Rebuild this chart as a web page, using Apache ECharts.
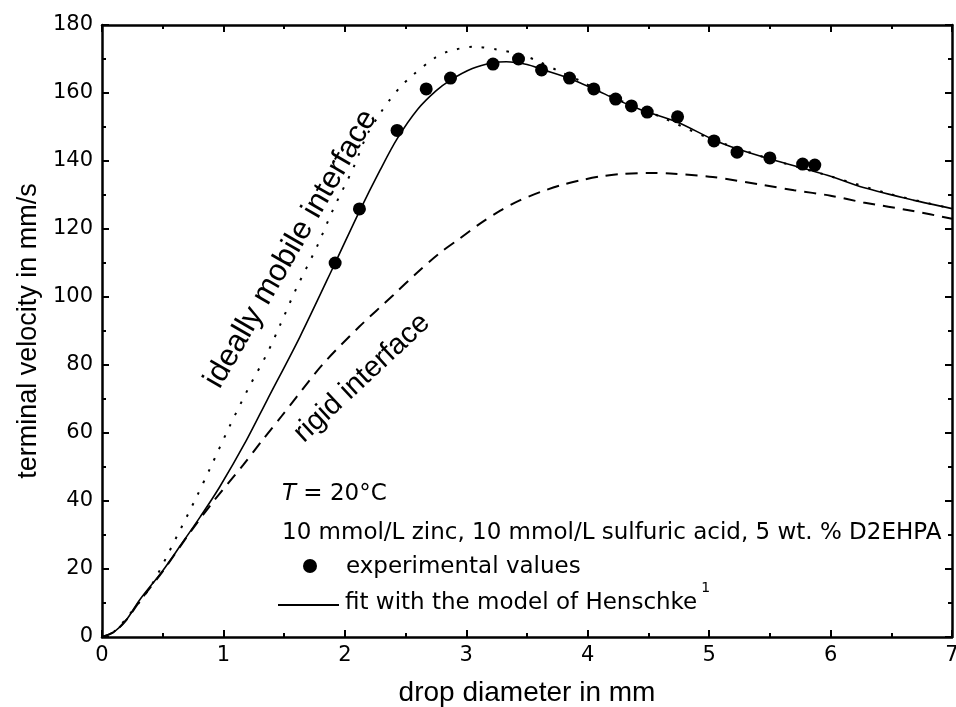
<!DOCTYPE html>
<html>
<head>
<meta charset="utf-8">
<script src="https://cdn.jsdelivr.net/npm/echarts@6/dist/echarts.min.js"></script>
<style>
html,body{margin:0;padding:0;background:#fff;}
#chart{width:956px;height:707px;}
</style>
</head>
<body>
<div id="chart"></div>
<script>
// ---- data ----
const xTicks = [0, 1, 2, 3, 4, 5, 6, 7];
const yTicks = [0, 20, 40, 60, 80, 100, 120, 140, 160, 180];

const experimental = [
  [1.92, 110], [2.12, 125.9], [2.43, 149], [2.67, 161.2], [2.87, 164.4],
  [3.22, 168.5], [3.43, 170], [3.62, 166.8], [3.85, 164.4], [4.05, 161.2],
  [4.23, 158.2], [4.36, 156.2], [4.49, 154.4], [4.74, 153], [5.04, 145.9],
  [5.23, 142.6], [5.50, 140.9], [5.77, 139.1], [5.87, 138.8]
];

const henschkeFit = [
  [0, 0], [0.1, 1.5], [0.2, 5], [0.31, 10.9], [0.5, 19.5], [0.64, 26.6],
  [0.81, 35.4], [0.97, 44.2], [1.19, 57.9], [1.36, 69.7], [1.63, 88.3],
  [1.92, 110], [2.12, 125.2], [2.29, 137.3], [2.43, 146.5], [2.6, 155.2],
  [2.75, 160.6], [2.87, 163.8], [3.05, 167.2], [3.22, 168.9], [3.33, 169.2],
  [3.5, 168.4], [3.62, 167], [3.85, 164.3], [4.05, 161.2], [4.23, 158.2],
  [4.36, 156.2], [4.49, 154.4], [4.74, 151.4], [5.04, 146.2], [5.23, 143.6],
  [5.5, 140.6], [5.86, 137], [6.0, 135.5], [6.27, 132.2], [6.68, 128.5], [7.0, 126]
];

const rigidInterface = [
  [0, 0], [0.1, 1.5], [0.2, 5], [0.31, 10.5], [0.5, 19.3], [0.72, 30.5],
  [0.92, 40], [1.16, 50.5], [1.33, 58.3], [1.48, 65], [1.6, 70.5],
  [1.82, 80.3], [2.12, 91.3], [2.4, 100.6], [2.59, 107], [2.77, 112.6],
  [2.95, 117.3], [3.11, 121.5], [3.28, 125.4], [3.44, 128.4], [3.62, 131],
  [3.79, 133], [3.95, 134.4], [4.13, 135.6], [4.29, 136.2], [4.5, 136.5],
  [4.68, 136.3], [5.03, 135.3], [5.45, 132.9], [5.7, 131.4], [6.0, 129.8],
  [6.27, 127.8], [6.68, 125.3], [7.0, 123]
];

const mobileInterface = [
  [0, 0], [0.1, 1.6], [0.2, 5.5], [0.4, 14.8], [0.615, 29.5], [0.78, 41.3],
  [0.89, 49.6], [1.05, 61.9], [1.205, 73.1], [1.36, 83.4], [1.47, 92],
  [1.6, 102.5], [1.77, 114.8], [1.9, 125.5], [2.07, 138], [2.18, 147.5],
  [2.30, 154.5], [2.37, 158], [2.45, 161.5], [2.56, 165.3], [2.74, 170.3],
  [2.85, 172.2], [3.06, 173.6], [3.25, 172.8], [3.43, 171.5], [3.57, 169.7],
  [3.77, 166.3], [3.96, 163.2], [4.1, 160.5], [4.3, 157.3], [4.6, 153],
  [5.0, 146.7], [5.5, 140.6], [6.0, 135.5], [6.5, 130.2], [7.0, 126]
];

const annotations = {
  temp: 'T',
  tempRest: ' = 20°C',
  conditions: '10 mmol/L zinc, 10 mmol/L sulfuric acid, 5 wt. % D2EHPA',
  exp: 'experimental values',
  fit: 'fit with the model of Henschke',
  sup: '1',
  mobile: 'ideally mobile interface',
  rigid: 'rigid interface'
};

// ---- chart ----
const FONT = '"Liberation Sans", Arial, sans-serif';
const WFONT = '"DejaVu Sans", "Liberation Sans", sans-serif';
const chart = echarts.init(document.getElementById('chart'), null, {renderer: 'canvas'});

const axisLineStyle = {show: true, onZero: false, lineStyle: {color: '#000', width: 2.5}};
const tickStyle = {show: true, inside: true, length: 7, lineStyle: {color: '#000', width: 2}};
const minorStyle = {show: true, splitNumber: 2, length: 4, lineStyle: {color: '#000', width: 2}};

const option = {
  backgroundColor: '#fff',
  animation: false,
  grid: {left: 102, right: 4, top: 25, bottom: 70, show: false,
         containLabel: false, outerBoundsMode: 'none'},
  xAxis: [
    {
      type: 'value', min: 0, max: 7, interval: 1, position: 'bottom',
      axisLine: axisLineStyle, axisTick: tickStyle, minorTick: minorStyle,
      splitLine: {show: false},
      axisLabel: {color: '#000', fontSize: 21, fontFamily: WFONT, margin: 8,
        formatter: v => xTicks.includes(v) ? String(v) : ''},
      name: 'drop diameter in mm', nameLocation: 'middle', nameGap: 42,
      nameTextStyle: {color: '#000', fontSize: 28, fontFamily: FONT}
    },
    {
      type: 'value', min: 0, max: 7, interval: 1, position: 'top',
      axisLine: axisLineStyle, axisTick: tickStyle, minorTick: minorStyle,
      splitLine: {show: false}, axisLabel: {show: false}
    }
  ],
  yAxis: [
    {
      type: 'value', min: 0, max: 180, interval: 20, position: 'left',
      axisLine: axisLineStyle, axisTick: tickStyle, minorTick: minorStyle,
      splitLine: {show: false},
      axisLabel: {color: '#000', fontSize: 21, fontFamily: WFONT, margin: 9,
        formatter: v => yTicks.includes(v) ? String(v) : ''},
      name: 'terminal velocity in mm/s', nameLocation: 'middle', nameGap: 60,
      nameTextStyle: {color: '#000', fontSize: 27, fontFamily: FONT}
    },
    {
      type: 'value', min: 0, max: 180, interval: 20, position: 'right',
      axisLine: axisLineStyle, axisTick: tickStyle, minorTick: minorStyle,
      splitLine: {show: false}, axisLabel: {show: false}
    }
  ],
  series: [
    {
      name: 'ideally mobile interface', type: 'line', data: mobileInterface,
      smooth: 0.3, showSymbol: false, symbol: 'none',
      lineStyle: {color: '#000', width: 2, type: [2.5, 10], cap: 'butt'}, z: 2
    },
    {
      name: 'rigid interface', type: 'line', data: rigidInterface,
      smooth: 0.3, showSymbol: false, symbol: 'none',
      lineStyle: {color: '#000', width: 2, type: [12, 8]}, z: 2
    },
    {
      name: 'fit', type: 'line', data: henschkeFit,
      smooth: 0.3, showSymbol: false, symbol: 'none',
      lineStyle: {color: '#000', width: 1.6}, z: 3
    },
    {
      name: 'experimental values', type: 'scatter', data: experimental,
      symbol: 'circle', symbolSize: 13, itemStyle: {color: '#000', opacity: 1}, z: 4
    }
  ],
  graphic: [
    {type: 'text', x: 282, y: 494, style: {
      text: '{i|' + annotations.temp + '}' + annotations.tempRest,
      font: '23px ' + WFONT, fill: '#000', verticalAlign: 'middle',
      rich: {i: {fontStyle: 'italic', fontSize: 23, fontFamily: WFONT, fill: '#000'}}
    }},
    {type: 'text', x: 282, y: 533, style: {
      text: annotations.conditions, font: '23px ' + WFONT, fill: '#000', verticalAlign: 'middle'
    }},
    {type: 'circle', shape: {cx: 310, cy: 566, r: 7}, style: {fill: '#000'}},
    {type: 'text', x: 346, y: 567, style: {
      text: annotations.exp, font: '23px ' + WFONT, fill: '#000', verticalAlign: 'middle'
    }},
    {type: 'line', shape: {x1: 278, y1: 605, x2: 339, y2: 605}, style: {stroke: '#000', lineWidth: 2}},
    {type: 'text', x: 345, y: 598, style: {
      text: '{n|' + annotations.fit + '}{s|' + annotations.sup + '}',
      font: '23px ' + WFONT, fill: '#000', verticalAlign: 'middle',
      rich: {
        n: {fontSize: 23, fontFamily: WFONT, fill: '#000', lineHeight: 34, verticalAlign: 'bottom'},
        s: {fontSize: 14, fontFamily: WFONT, fill: '#000', verticalAlign: 'top', padding: [0, 0, 0, 4]}
      }
    }},
    {type: 'text', x: 291, y: 249, rotation: 60 * Math.PI / 180, style: {
      text: annotations.mobile, font: '31px ' + FONT, fill: '#000', align: 'center', verticalAlign: 'middle'
    }},
    {type: 'text', x: 362, y: 378, rotation: 43 * Math.PI / 180, style: {
      text: annotations.rigid, font: '29px ' + FONT, fill: '#000', align: 'center', verticalAlign: 'middle'
    }}
  ]
};
chart.setOption(option);
</script>
</body>
</html>
